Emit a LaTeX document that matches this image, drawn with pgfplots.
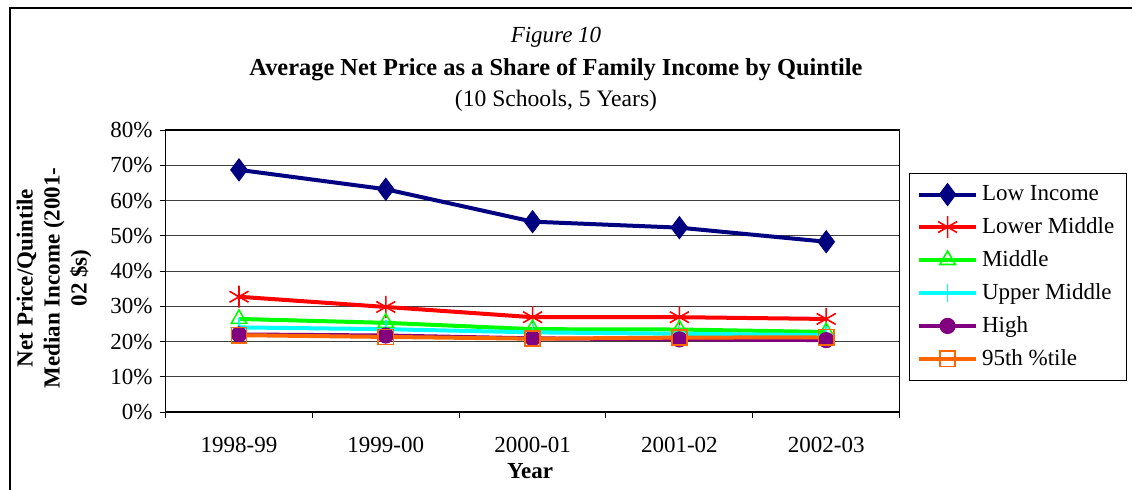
\documentclass[border=0pt]{standalone}
\usepackage{fontspec}
\setmainfont{Liberation Serif}
\usepackage{pgfplots}
\pgfplotsset{compat=1.18}

\definecolor{cLow}{RGB}{0,0,128}
\definecolor{cLowMid}{RGB}{255,0,0}
\definecolor{cMid}{RGB}{0,255,0}
\definecolor{cUpMid}{RGB}{0,255,255}
\definecolor{cHigh}{RGB}{128,0,128}
\definecolor{cTop}{RGB}{255,102,0}

\begin{document}
\begin{tikzpicture}
\useasboundingbox (0pt,0pt) rectangle (566pt,244.5pt);
% outer chart frame (right and bottom edges are cut off)
\draw[line width=0.7pt] (5pt,-5pt) -- (5pt,240.5pt) -- (575pt,240.5pt);

% titles
\node[font=\fontsize{11.5}{13}\selectfont\itshape] at (278pt,226pt) {Figure 10};
\node[font=\fontsize{12.2}{14}\selectfont\bfseries] at (278pt,209.5pt) {Average Net Price as a Share of Family Income by Quintile};
\node[font=\fontsize{11.8}{14}\selectfont] at (278pt,194pt) {(10 Schools, 5 Years)};

% y label
\node[font=\fontsize{11.5}{13.5}\selectfont\bfseries, rotate=90, align=center] at (27pt,105.5pt)
  {Net Price/Quintile\\Median Income (2001-\\02 \$s)};
% x label
\node[font=\fontsize{11.5}{13}\selectfont\bfseries] at (265pt,9pt) {Year};

\begin{axis}[
    at={(119.5pt,38.5pt)}, anchor=origin,
    scale only axis,
    width=367pt, height=141pt,
    xmin=-0.5, xmax=4.5,
    ymin=0, ymax=80,
    xtick={0,1,2,3,4},
    xticklabels={1998-99, 1999-00, 2000-01, 2001-02, 2002-03},
    minor xtick={-0.5,0.5,1.5,2.5,3.5,4.5},
    major x tick style={draw=none},
    ytick={0,10,...,80},
    yticklabel={\pgfmathprintnumber{\tick}\%},
    tick pos=left,
    tick align=outside,
    major tick length=3pt,
    minor tick length=3pt,
    tick style={black, line width=0.5pt},
    ymajorgrids,
    grid style={black!75, line width=0.5pt},
    axis line style={black, line width=0.6pt},
    ticklabel style={font=\fontsize{11.5}{13}\selectfont},
    /pgf/number format/assume math mode=true,
    xticklabel style={yshift=-6pt},
    legend style={
        at={(rel axis cs:1.0123,0.8475)}, anchor=north west,
        draw=black, line width=0.5pt,
        font=\fontsize{11.5}{13}\selectfont,
        row sep=3pt, inner xsep=4pt, inner ysep=4pt,
    },
    legend cell align=left,
    legend image code/.code={
        \draw[mark repeat=2, mark phase=2, #1]
            plot coordinates {(0cm,0cm) (0.5cm,0cm) (1cm,0cm)};
    },
]
\addplot[cLow, line width=2pt, mark=diamond*, mark size=5.5pt, mark options={solid, fill=cLow, line width=0.5pt}]
  coordinates {(0,68.7) (1,63.2) (2,54.0) (3,52.3) (4,48.3)};
\addlegendentry{Low Income}

\addplot[cLowMid, line width=2pt, mark=asterisk, mark size=5.5pt, mark options={solid, line width=0.8pt}]
  coordinates {(0,32.7) (1,29.8) (2,26.9) (3,26.9) (4,26.4)};
\addlegendentry{Lower Middle}

\addplot[cMid, line width=2pt, mark=triangle, mark size=4.5pt, mark options={solid, line width=0.8pt}]
  coordinates {(0,26.4) (1,25.3) (2,23.5) (3,23.4) (4,22.7)};
\addlegendentry{Middle}

\addplot[cUpMid, line width=2pt, mark=+, mark size=4.5pt, mark options={solid, line width=0.8pt}]
  coordinates {(0,24.0) (1,23.5) (2,22.6) (3,22.2) (4,21.8)};
\addlegendentry{Upper Middle}

\addplot[cHigh, line width=2pt, mark=*, mark size=3.8pt, mark options={solid, fill=cHigh, line width=0.5pt}]
  coordinates {(0,22.0) (1,21.7) (2,20.9) (3,20.6) (4,20.4)};
\addlegendentry{High}

\addplot[cTop, line width=2pt, mark=square, mark size=3.8pt, mark options={solid, line width=0.8pt}]
  coordinates {(0,21.8) (1,21.3) (2,20.8) (3,21.1) (4,21.2)};
\addlegendentry{95th \%tile}
\end{axis}
\end{tikzpicture}
\end{document}
